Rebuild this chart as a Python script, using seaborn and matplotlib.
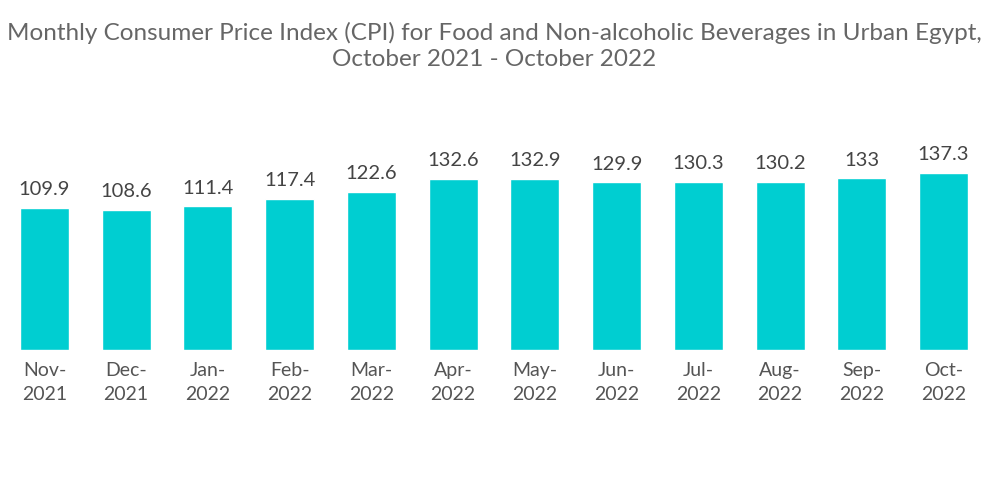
import matplotlib
matplotlib.use("Agg")
import matplotlib.pyplot as plt
import seaborn as sns
import pandas as pd

months = ["Nov-\n2021", "Dec-\n2021", "Jan-\n2022", "Feb-\n2022", "Mar-\n2022", "Apr-\n2022",
          "May-\n2022", "Jun-\n2022", "Jul-\n2022", "Aug-\n2022", "Sep-\n2022", "Oct-\n2022"]
cpi = [109.9, 108.6, 111.4, 117.4, 122.6, 132.6, 132.9, 129.9, 130.3, 130.2, 133, 137.3]
value_labels = ["109.9", "108.6", "111.4", "117.4", "122.6", "132.6",
                "132.9", "129.9", "130.3", "130.2", "133", "137.3"]

sns.set_theme(style="white")
plt.rcParams["font.family"] = ["Lato", "DejaVu Sans"]

text_color = "#555555"
bar_color = "#00CED1"

df = pd.DataFrame({"month": months, "cpi": cpi})

fig = plt.figure(figsize=(10, 5.04), dpi=100)
ax = fig.add_axes([0.0036, 0.3056, 0.9808, 0.4095])
sns.barplot(data=df, x="month", y="cpi", color=bar_color, saturation=1, width=0.6, ax=ax)

for i, (v, lab) in enumerate(zip(cpi, value_labels)):
    ax.annotate(lab, (i, v), xytext=(0, 7), textcoords="offset points",
                ha="center", va="bottom", fontsize=14.5, color="#444444")

ax.set_xlim(-0.5, 11.5)
ax.set_ylim(0, 160)
ax.set_xlabel("")
ax.set_ylabel("")
ax.set_yticks([])
ax.tick_params(axis="x", length=0, pad=9, labelsize=14, labelcolor=text_color)
for lbl in ax.get_xticklabels():
    lbl.set_linespacing(1.45)
for s in ax.spines.values():
    s.set_visible(False)

fig.text(0.494, 0.908, "Monthly Consumer Price Index (CPI) for Food and Non-alcoholic Beverages in Urban Egypt,\nOctober 2021 - October 2022",
         ha="center", va="center", fontsize=17.5, color="#666666", linespacing=1.3)

fig.savefig("out.png", dpi=100)
